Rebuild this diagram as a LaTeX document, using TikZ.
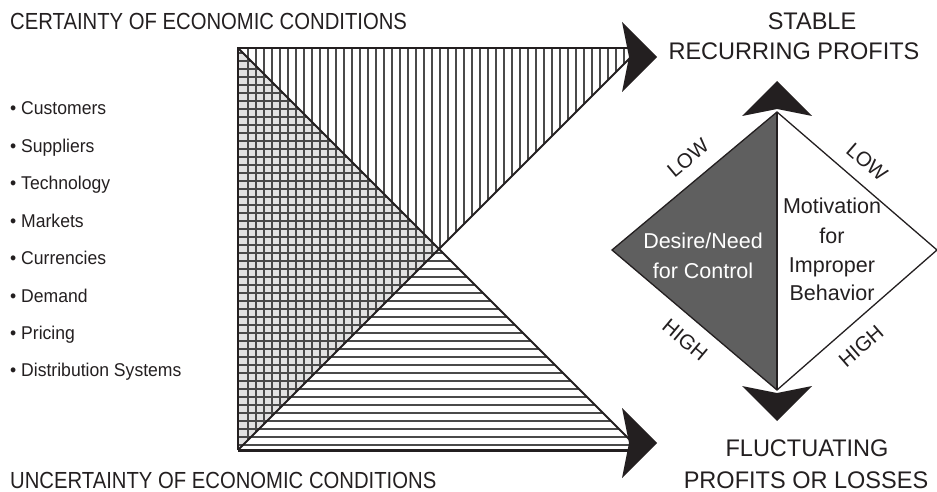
\documentclass[tikz,border=0pt]{standalone}
\usepackage{fontspec}
\setmainfont{Liberation Sans}
\newfontfamily\titlefont{Liberation Sans}[FakeStretch=0.87]
\newfontfamily\headfont{Liberation Sans}[FakeStretch=0.98]
\newfontfamily\bulletfont{Liberation Sans}[FakeStretch=0.95]
\definecolor{ink}{HTML}{231F20}
\definecolor{hatchgray}{HTML}{4A4A4A}
\definecolor{gridfill}{HTML}{E2E2E2}
\definecolor{dgray}{HTML}{5F5F5F}
\begin{document}
\begin{tikzpicture}[x=1pt,y=-1pt,
  hatch/.style={draw=hatchgray,line width=1.25pt},
  edgeline/.style={draw=ink,line width=2.4pt},
  diagline/.style={draw=ink,line width=2pt},
  head/.style={fill=ink},
  title/.style={font=\titlefont\fontsize{23.3}{28}\selectfont,text=ink,inner sep=0pt},
  rtitle/.style={font=\headfont\fontsize{24}{28}\selectfont,text=ink,inner sep=0pt},
  bullet/.style={font=\bulletfont\fontsize{18.5}{22}\selectfont,text=ink,inner sep=0pt,anchor=base west},
  dtext/.style={font=\fontsize{21.5}{26}\selectfont,inner sep=0pt,anchor=base},
  lvl/.style={font=\fontsize{20.5}{24}\selectfont,text=ink,inner sep=0pt}]
\useasboundingbox (0,0) rectangle (937,492);
% square corners
\coordinate (TL) at (238,48);
\coordinate (BL) at (238,450);
\coordinate (TR) at (640,48);
\coordinate (BR) at (640,450);
\coordinate (C) at (439,249);
% left triangle fill
\fill[gridfill] (TL) -- (C) -- (BL) -- cycle;
% vertical hatching (top + left triangles)
\begin{scope}
  \clip (TL) -- (TR) -- (C) -- (BL) -- cycle;
  \foreach \x in {248,256,...,632} \draw[hatch] (\x,40) -- (\x,460);
\end{scope}
% horizontal hatching (left + bottom triangles)
\begin{scope}
  \clip (TL) -- (C) -- (BR) -- (BL) -- cycle;
  \foreach \y in {53,61,...,445} \draw[hatch] (230,\y) -- (650,\y);
\end{scope}
% edges
\coordinate (TE) at (630,48);
\coordinate (BE) at (630,450);
\draw[edgeline] (TE) -- (TL) -- (BL);
\draw[ink,line width=3pt] (BL) -- (BE);
\coordinate (D1) at (632,442);
\coordinate (D2) at (632,56);
\draw[diagline] (TL) -- (D1);
\draw[diagline] (BL) -- (D2);
% big arrowheads
\fill[head] (657,57) -- (622,22) -- (629,57) -- (622,92) -- cycle;
\fill[head] (657,443) -- (622,408) -- (629,443) -- (622,478) -- cycle;
% diamond
\coordinate (DT) at (777,112);
\coordinate (DB) at (777,390);
\coordinate (DL) at (612,250);
\coordinate (DR) at (937,250);
\fill[dgray] (DT) -- (DL) -- (DB) -- cycle;
\draw[ink,line width=1.3pt,line join=miter] (DT) -- (DL) -- (DB) -- (DR) -- cycle;
\draw[ink,line width=1.3pt] (DT) -- (DB);
\fill[head] (777,81) -- (742,116) -- (777,109) -- (812,116) -- cycle;
\fill[head] (777,421) -- (742,386) -- (777,393) -- (812,386) -- cycle;
% diamond texts
\node[dtext,text=white] (dn1) at (703,248) {Desire/Need};
\node[dtext,text=white] (dn2) at (703,278) {for Control};
\node[dtext,text=ink] (mo1) at (832,213) {Motivation};
\node[dtext,text=ink] (mo2) at (832,243) {for};
\node[dtext,text=ink] (mo3) at (832,272) {Improper};
\node[dtext,text=ink] (mo4) at (832,300) {Behavior};
\node[lvl,rotate=40] (low1) at (688,158) {LOW};
\node[lvl,rotate=-41] (low2) at (867,162) {LOW};
\node[lvl,rotate=-40] (high1) at (685,340) {HIGH};
\node[lvl,rotate=41] (high2) at (861,346) {HIGH};
% titles
\node[title,anchor=base west] (cert) at (10,30) {CERTAINTY OF ECONOMIC CONDITIONS};
\node[title,anchor=base west] (uncert) at (10,488) {UNCERTAINTY OF ECONOMIC CONDITIONS};
\node[rtitle,anchor=base] (stab) at (812,30) {STABLE};
\node[rtitle,anchor=base] (recur) at (794,60) {RECURRING PROFITS};
\node[rtitle,anchor=base] (fluc) at (807,456) {FLUCTUATING};
\node[rtitle,anchor=base] (loss) at (806,488) {PROFITS OR LOSSES};
% bullets
\node[bullet] (b1) at (10,115) {• Customers};
\node[bullet] (b2) at (10,152.4) {• Suppliers};
\node[bullet] (b3) at (10,189.8) {• Technology};
\node[bullet] (b4) at (10,227.2) {• Markets};
\node[bullet] (b5) at (10,264.6) {• Currencies};
\node[bullet] (b6) at (10,302) {• Demand};
\node[bullet] (b7) at (10,339.4) {• Pricing};
\node[bullet] (b8) at (10,376.8) {• Distribution Systems};
\end{tikzpicture}
\end{document}
